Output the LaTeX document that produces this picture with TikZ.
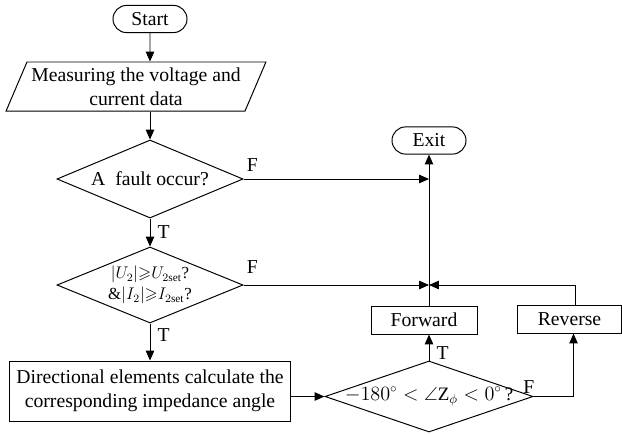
\documentclass[tikz,border=0pt]{standalone}
\usepackage{fontspec}
\setmainfont{Liberation Serif}
\usepackage{amsmath}
\usepackage{amssymb}
\usetikzlibrary{shapes.geometric, shapes.misc, arrows.meta, positioning, calc}

\begin{document}
\begin{tikzpicture}[x=0.025cm, y=-0.025cm, line width=0.7pt,
    font=\fontsize{14}{17}\selectfont,
    terminal/.style={rounded rectangle, draw, minimum width=1.85cm, minimum height=0.68cm, inner sep=0pt},
    io/.style={trapezium, draw, trapezium left angle=62, trapezium right angle=118,
      trapezium stretches=true, minimum width=6.5cm, minimum height=1.225cm, align=center, inner sep=0pt},
    decision/.style={diamond, draw, aspect=1, inner sep=0pt},
    process/.style={rectangle, draw, align=center, inner sep=0pt},
    flow/.style={-{Triangle[length=7pt,width=6pt]}},
    tf/.style={inner sep=2pt}
  ]
  \useasboundingbox (0,0) rectangle (622,434);

  % left column
  \node[terminal] (start) at (150,19) {Start};
  \node[io] (meas) at (136,86.5) {Measuring the voltage and\\current data};
  \node[decision, minimum width=4.65cm, minimum height=1.95cm] (fault) at (150,179)
    {\makebox[0pt]{A~ fault occur?}};
  \node[decision, minimum width=4.65cm, minimum height=1.9cm] (cond) at (150,285)
    {\makebox[0pt]{\raisebox{-3pt}{\fontsize{12}{15}\selectfont\begin{tabular}{@{}c@{}}
      $|U_2|{\geqslant}U_{2\mathrm{set}}$?\\ \&$|I_2|{\geqslant}I_{2\mathrm{set}}$?\end{tabular}}}};
  \node[process, minimum width=7cm, minimum height=1.5cm] (imp) at (150,391)
    {Directional elements calculate the\\corresponding impedance angle};

  % right column
  \node[terminal] (exit) at (429,140.5) {Exit};
  \node[decision, minimum width=5.2cm, minimum height=1.775cm] (dirc) at (429,396.5)
    {\makebox[0pt]{\fontsize{13.5}{16}\selectfont$-180^{\circ}<\angle\mathrm{Z}_{\phi}<0^{\circ}$\,?}};
  \node[process, minimum width=2.65cm, minimum height=0.7cm] (fwd) at (424,320) {Forward};
  \node[process, minimum width=2.6cm, minimum height=0.68cm] (rev) at (569.5,319.5) {Reverse};

  \coordinate (m1) at (exit |- fault);
  \coordinate (m2) at (exit |- cond);

  % connectors
  \draw[flow] (start) -- (start |- meas.north);
  \draw[flow] (start |- meas.south) -- (fault);
  \draw[flow] (fault) -- node[tf, right, xshift=3pt] {T} (cond);
  \draw[flow] (cond) -- node[tf, right, xshift=3pt, pos=0.3] {T} (imp);
  \draw[flow] (imp.east |- dirc) -- (dirc.west);
  \draw[flow] (dirc.north) -- node[tf, right, xshift=3pt, pos=0.3] {T} (dirc.north |- fwd.south);
  \draw[flow] (dirc.north |- fwd.north) -- (exit.south);
  \draw[flow] (fault.east) node[tf, above right, yshift=3pt] {F} -- (m1);
  \draw[flow] (cond.east) node[tf, above right, yshift=6pt] {F} -- (m2);
  \draw[flow] (dirc.east) node[tf, above left, xshift=3pt] {F} -| ([xshift=0.1cm]rev.south);
  \draw[flow] ([xshift=0.15cm]rev.north) |- (m2);
\end{tikzpicture}
\end{document}
